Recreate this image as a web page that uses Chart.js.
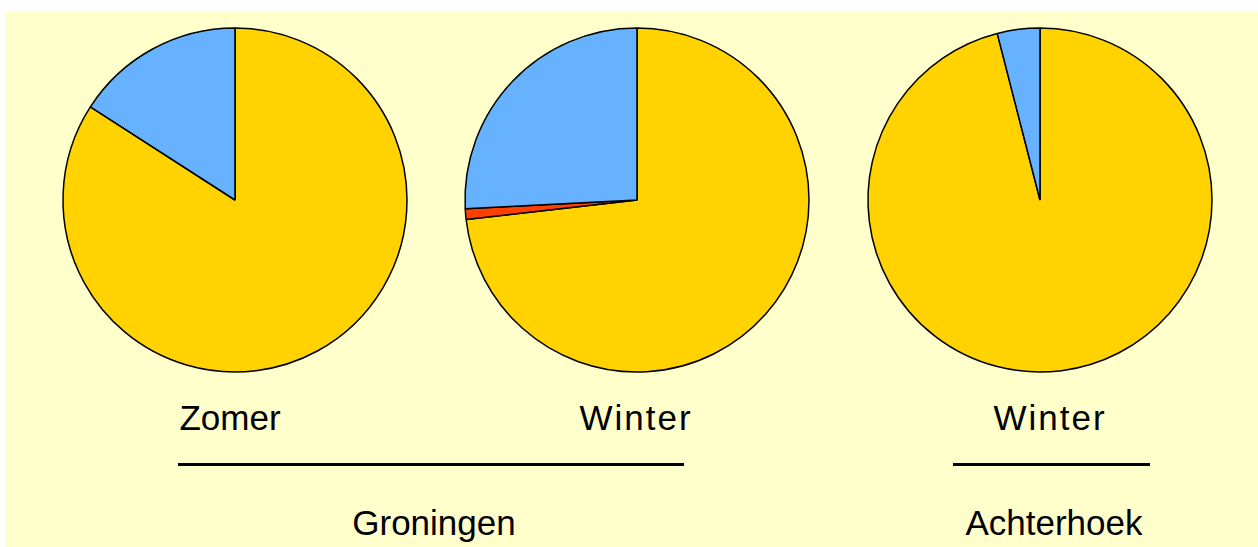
<!DOCTYPE html>
<html>
<head>
<meta charset="utf-8">
<script src="https://cdn.jsdelivr.net/npm/chart.js@4/dist/chart.umd.min.js"></script>
<style>
  body { margin: 0; background: #fff; width: 1258px; height: 547px; overflow: hidden; position: relative; }
  #bg { position: absolute; left: 5px; top: 12px; right: 0; bottom: 0; background: #FFFFCC; }
  canvas { position: absolute; top: 20px; }
  .lbl { position: absolute; font-family: "Liberation Sans", Arial, sans-serif; font-size: 35px; color: #000; white-space: nowrap; transform: translateX(-50%); line-height: 1; }
  .wide { letter-spacing: 2px; }
  .rule { position: absolute; height: 2.5px; background: #000; top: 463px; }
</style>
</head>
<body>
<div id="bg"></div>
<canvas id="pie1" width="360" height="360" style="left:55px"></canvas>
<canvas id="pie2" width="360" height="360" style="left:457px"></canvas>
<canvas id="pie3" width="360" height="360" style="left:860px"></canvas>

<div class="lbl" style="left:230px; top:400px">Zomer</div>
<div class="lbl wide" style="left:636px; top:400px">Winter</div>
<div class="lbl wide" style="left:1050px; top:400px">Winter</div>
<div class="rule" style="left:178px; width:506px"></div>
<div class="rule" style="left:953px; width:197px"></div>
<div class="lbl" style="left:434px; top:505px">Groningen</div>
<div class="lbl" style="left:1054px; top:505px">Achterhoek</div>

<script>
// slice order: yellow, red, blue (clockwise from 12 o'clock)
const sliceNames = ['geel', 'rood', 'blauw'];
const sliceColors = ['#FFD200', '#FF4000', '#66B2FF'];

const groningenZomer = [84.1, 0, 15.9];
const groningenWinter = [73.2, 1.0, 25.8];
const achterhoekWinter = [96.0, 0, 4.0];

const makePie = (id, values) => {
    var ctx = document.getElementById(id).getContext('2d');
    new Chart(ctx, {
        type: 'pie',
        data: {
            labels: sliceNames,
            datasets: [{
                data: values,
                backgroundColor: sliceColors,
                borderColor: '#000',
                borderWidth: 1.5,
                hoverOffset: 0
            }]
        },
        options: {
            responsive: false,
            maintainAspectRatio: false,
            animation: false,
            radius: 172,
            layout: { padding: 0 },
            plugins: {
                legend: { display: false },
                tooltip: { enabled: false }
            }
        }
    });
};

makePie('pie1', groningenZomer);
makePie('pie2', groningenWinter);
makePie('pie3', achterhoekWinter);
</script>
</body>
</html>
